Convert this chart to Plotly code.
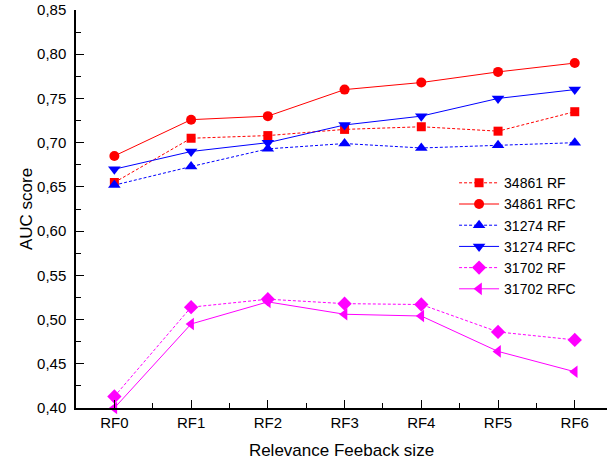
import plotly.graph_objects as go

categories = ["RF0", "RF1", "RF2", "RF3", "RF4", "RF5", "RF6"]
s34861_rf = [0.655, 0.705, 0.708, 0.715, 0.718, 0.713, 0.735]
s34861_rfc = [0.685, 0.726, 0.730, 0.760, 0.768, 0.780, 0.790]
s31274_rf = [0.652, 0.673, 0.693, 0.699, 0.694, 0.697, 0.700]
s31274_rfc = [0.670, 0.690, 0.700, 0.720, 0.730, 0.750, 0.760]
s31702_rf = [0.413, 0.514, 0.523, 0.518, 0.517, 0.486, 0.477]
s31702_rfc = [0.400, 0.495, 0.520, 0.506, 0.504, 0.464, 0.441]
y_ticks = [0.40, 0.45, 0.50, 0.55, 0.60, 0.65, 0.70, 0.75, 0.80, 0.85]
y_labels = [f"{v:.2f}".replace(".", ",") for v in y_ticks]

xs = list(range(len(categories)))
series = [
    ("34861 RF", s34861_rf, "#ff0000", "3px,2px", "square", 9),
    ("34861 RFC", s34861_rfc, "#ff0000", "solid", "circle", 10),
    ("31274 RF", s31274_rf, "#0000ff", "3px,2px", "triangle-up", 11),
    ("31274 RFC", s31274_rfc, "#0000ff", "solid", "triangle-down", 11),
    ("31702 RF", s31702_rf, "#ff00ff", "3px,2px", "diamond", 11),
    ("31702 RFC", s31702_rfc, "#ff00ff", "solid", "triangle-left", 11),
]

fig = go.Figure()
for name, vals, col, dash, sym, sz in series:
    fig.add_trace(go.Scatter(
        x=xs, y=vals, name=name, mode="lines+markers",
        line=dict(color=col, width=1, dash=dash),
        marker=dict(symbol=sym, size=sz, color=col, line=dict(width=0)),
        cliponaxis=False,
    ))

xrange = [-0.5, 6.42]
fig.update_layout(
    width=607, height=463,
    margin=dict(l=76, r=0, t=10, b=55, autoexpand=False),
    plot_bgcolor="white", paper_bgcolor="white",
    font=dict(family="Liberation Sans, Arial, sans-serif", size=15, color="black"),
    showlegend=True,
    legend=dict(x=0.712, y=0.605, xanchor="left", yanchor="top",
                bgcolor="rgba(0,0,0,0)", font=dict(size=14),
                tracegroupgap=0, itemwidth=40),
    xaxis=dict(
        range=xrange, tickvals=xs, ticktext=categories,
        showgrid=False, zeroline=False, automargin=False,
        showline=True, linecolor="black", linewidth=1.5, mirror=False,
        ticks="inside", ticklen=8, tickcolor="black",
        minor=dict(ticks="inside", ticklen=5, tickcolor="black", dtick=0.5, tick0=-0.5),
        title=dict(text="Relevance Feeback size", font=dict(size=17), standoff=14),
    ),
    xaxis2=dict(
        overlaying="x", side="top", range=xrange, tickvals=xs,
        showticklabels=False, showgrid=False, zeroline=False, automargin=False,
        showline=True, linecolor="black", linewidth=1.5,
        ticks="inside", ticklen=3, tickcolor="black",
        minor=dict(ticks="inside", ticklen=2, tickcolor="black", dtick=0.5, tick0=-0.5),
    ),
    yaxis=dict(
        range=[0.40, 0.85], tickvals=y_ticks, ticktext=y_labels,
        showgrid=False, zeroline=False, automargin=False,
        showline=True, linecolor="black", linewidth=1.5, mirror=False,
        ticks="inside", ticklen=8, tickcolor="black", ticklabelstandoff=5,
        minor=dict(ticks="inside", ticklen=5, tickcolor="black", dtick=0.025, tick0=0.4),
        title=dict(text="AUC score", font=dict(size=17), standoff=0),
    ),
)
fig.write_html("out.html", config={"displayModeBar": False},
               post_script="document.body.style.margin='0';")
